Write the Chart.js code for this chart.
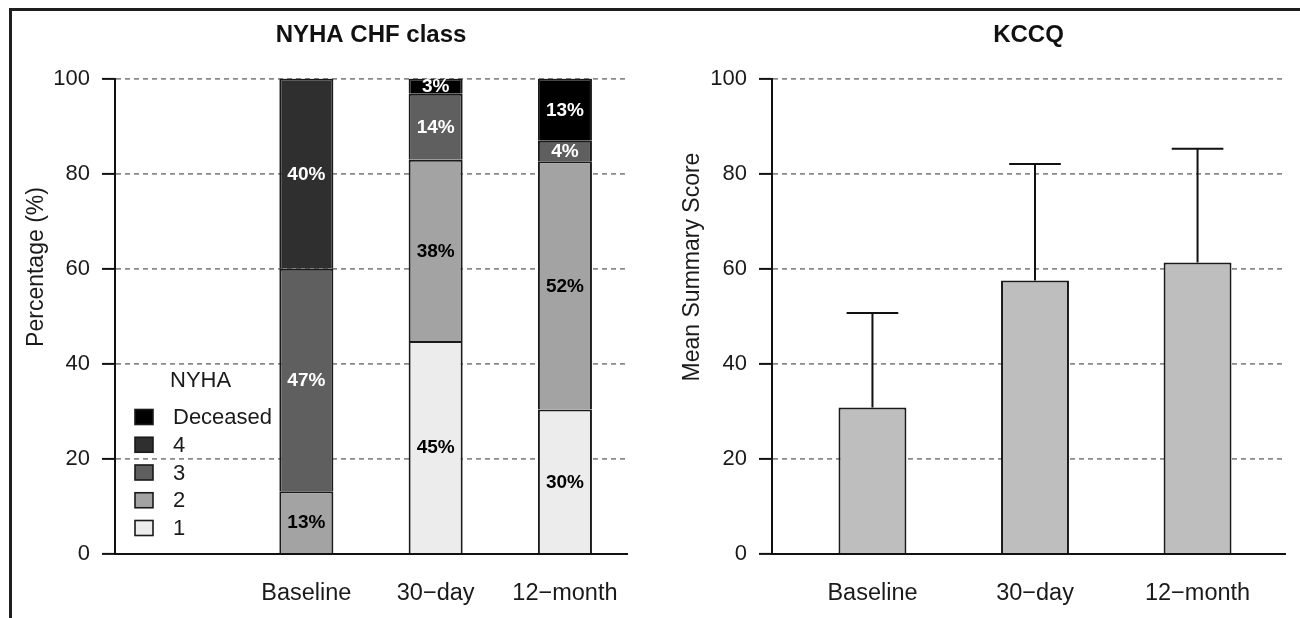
<!DOCTYPE html>
<html>
<head>
<meta charset="utf-8">
<script src="https://cdn.jsdelivr.net/npm/chart.js@4/dist/chart.umd.min.js"></script>
<style>
  html, body { margin: 0; padding: 0; background: #fff; }
  #wrap { position: relative; width: 1300px; height: 618px; overflow: hidden; }
  #frame { position: absolute; left: 9px; top: 8px; width: 1300px; height: 620px;
           border-top: 3px solid #1e1e1e; border-left: 3px solid #1e1e1e; box-sizing: border-box; }
  canvas { position: absolute; top: 0; }
  #nyha { left: 0; }
  #kccq { left: 650px; }
</style>
</head>
<body>
<div id="wrap">
  <div id="frame"></div>
  <canvas id="nyha" width="650" height="618"></canvas>
  <canvas id="kccq" width="650" height="618"></canvas>
</div>
<script>
"use strict";

var timepoints = ["Baseline", "30\u2212day", "12\u2212month"];
var yTicks = [0, 20, 40, 60, 80, 100];

// NYHA class share per timepoint (%)
var nyha1 = [null, 44.8, 30.4];
var nyha2 = [13.2, 38.1, 52.2];
var nyha3 = [46.8, 13.9, 4.3];
var nyha4 = [40.0, null, null];
var deceased = [null, 3.2, 13.1];

// KCCQ summary score
var kccqMean = [30.8, 57.5, 61.3];
var kccqSd = [19.9, 24.5, 23.9];

var FONT = "'Liberation Sans', Arial, Helvetica, sans-serif";
var INK = "#111111";
var TEXT = "#1a1a1a";

function points(arr) {
  return arr.map(function(v, i) { return { x: i, y: v }; });
}

function axes(xMin, xMax, yWidth) {
  return {
    x: {
      type: "linear",
      min: xMin,
      max: xMax,
      offset: false,
      bounds: "data",
      stacked: true,
      afterBuildTicks: function(scale) {
        scale.ticks = timepoints.map(function(t, i) { return { value: i }; });
      },
      afterFit: function(scale) { scale.height = 64; },
      grid: { display: false, offset: false },
      border: { display: true, color: INK, width: 2, z: 1 },
      ticks: {
        padding: 17,
        maxRotation: 0,
        autoSkip: false,
        color: TEXT,
        font: { family: FONT, size: 23.5 },
        callback: function(v) { return timepoints[v]; }
      }
    },
    y: {
      min: 0,
      max: 100,
      stacked: true,
      afterBuildTicks: function(scale) {
        scale.ticks = yTicks.map(function(v) { return { value: v }; });
      },
      afterFit: function(scale) { scale.width = yWidth; },
      grid: {
        color: function(c) { return c.tick && c.tick.value === 0 ? "rgba(0,0,0,0)" : "#8a8a8a"; },
        lineWidth: 1.8,
        tickColor: INK,
        tickWidth: 2,
        tickLength: 13,
        tickBorderDash: []
      },
      border: { display: true, color: INK, width: 2, dash: [5, 4] },
      ticks: {
        padding: 12,
        color: TEXT,
        font: { family: FONT, size: 22 }
      }
    }
  };
}

// panel title centred over the plot area, y-axis title set a bit above centre
function panelText(title, yTitle, yTitleX) {
  return {
    id: "panelText",
    afterDraw: function(chart) {
      var ctx = chart.ctx;
      var area = chart.chartArea;
      ctx.save();
      ctx.fillStyle = INK;
      ctx.textAlign = "center";
      ctx.textBaseline = "middle";
      ctx.font = "bold 24px " + FONT;
      ctx.fillText(title, (area.left + area.right) / 2, 35);
      ctx.translate(yTitleX, 267);
      ctx.rotate(-Math.PI / 2);
      ctx.fillStyle = TEXT;
      ctx.font = "23px " + FONT;
      ctx.fillText(yTitle, 0, 0);
      ctx.restore();
    }
  };
}

// percentage labels in the middle of each stacked segment
var segmentLabels = {
  id: "segmentLabels",
  afterDatasetsDraw: function(chart) {
    var ctx = chart.ctx;
    ctx.save();
    ctx.font = "bold 19px " + FONT;
    ctx.textAlign = "center";
    ctx.textBaseline = "middle";
    chart.data.datasets.forEach(function(ds, di) {
      chart.getDatasetMeta(di).data.forEach(function(el, i) {
        var v = ds.data[i].y;
        if (v === null) return;
        ctx.fillStyle = ds.labelColor;
        ctx.fillText(Math.round(v) + "%", el.x, (el.y + el.base) / 2 + 1);
      });
    });
    ctx.restore();
  }
};

// legend drawn inside the empty left part of the plot
var nyhaLegend = {
  id: "nyhaLegend",
  afterDraw: function(chart) {
    var ctx = chart.ctx;
    var area = chart.chartArea;
    var sets = chart.data.datasets.slice().reverse();
    var rowH = 27.75;
    var y0 = area.bottom - 26 - rowH * (sets.length - 1);
    ctx.save();
    ctx.font = "22px " + FONT;
    ctx.textBaseline = "middle";
    ctx.textAlign = "left";
    ctx.fillStyle = TEXT;
    ctx.fillText("NYHA", area.left + 55, y0 - 36);
    sets.forEach(function(ds, i) {
      var y = y0 + i * rowH;
      ctx.fillStyle = ds.backgroundColor;
      ctx.fillRect(area.left + 20, y - 7.5, 18, 15);
      ctx.lineWidth = 1.6;
      ctx.strokeStyle = TEXT;
      ctx.strokeRect(area.left + 20, y - 7.5, 18, 15);
      ctx.fillStyle = TEXT;
      ctx.fillText(ds.label, area.left + 58, y + 1);
    });
    ctx.restore();
  }
};

// upper error whiskers on the KCCQ bars
var whiskers = {
  id: "whiskers",
  afterDatasetsDraw: function(chart) {
    var ctx = chart.ctx;
    var yScale = chart.scales.y;
    chart.getDatasetMeta(0).data.forEach(function(el, i) {
      var top = yScale.getPixelForValue(kccqMean[i] + kccqSd[i]);
      var half = el.width * 0.38;
      ctx.save();
      ctx.strokeStyle = INK;
      ctx.lineWidth = 2;
      ctx.beginPath();
      ctx.moveTo(el.x, el.y);
      ctx.lineTo(el.x, top);
      ctx.moveTo(el.x - half, top);
      ctx.lineTo(el.x + half, top);
      ctx.stroke();
      ctx.restore();
    });
  }
};

function segment(label, data, fill, textColor) {
  return {
    label: label,
    data: points(data),
    backgroundColor: fill,
    borderColor: TEXT,
    borderWidth: 2,
    borderSkipped: "start",
    barPercentage: 0.418,
    categoryPercentage: 1,
    labelColor: textColor
  };
}

new Chart(document.getElementById("nyha"), {
  type: "bar",
  data: {
    datasets: [
      segment("1", nyha1, "#ececec", "#000"),
      segment("2", nyha2, "#a3a3a3", "#000"),
      segment("3", nyha3, "#5f5f5f", "#fff"),
      segment("4", nyha4, "#2f2f2f", "#fff"),
      segment("Deceased", deceased, "#000000", "#fff")
    ]
  },
  options: {
    responsive: false,
    animation: false,
    devicePixelRatio: 1,
    layout: { padding: { left: 0, right: 23, top: 78.5, bottom: 0 } },
    plugins: {
      legend: { display: false },
      tooltip: { enabled: false },
      title: { display: false }
    },
    scales: axes(-1.48, 2.48, 115)
  },
  plugins: [segmentLabels, nyhaLegend, panelText("NYHA CHF class", "Percentage (%)", 37)]
});

new Chart(document.getElementById("kccq"), {
  type: "bar",
  data: {
    datasets: [{
      label: "KCCQ",
      data: points(kccqMean),
      backgroundColor: "#bebebe",
      borderColor: TEXT,
      borderWidth: 2,
      borderSkipped: "start",
      barPercentage: 0.418,
      categoryPercentage: 1
    }]
  },
  options: {
    responsive: false,
    animation: false,
    devicePixelRatio: 1,
    layout: { padding: { left: 0, right: 15, top: 78.5, bottom: 0 } },
    plugins: {
      legend: { display: false },
      tooltip: { enabled: false },
      title: { display: false }
    },
    scales: axes(-0.618, 2.538, 122)
  },
  plugins: [whiskers, panelText("KCCQ", "Mean Summary Score", 43)]
});
</script>
</body>
</html>
